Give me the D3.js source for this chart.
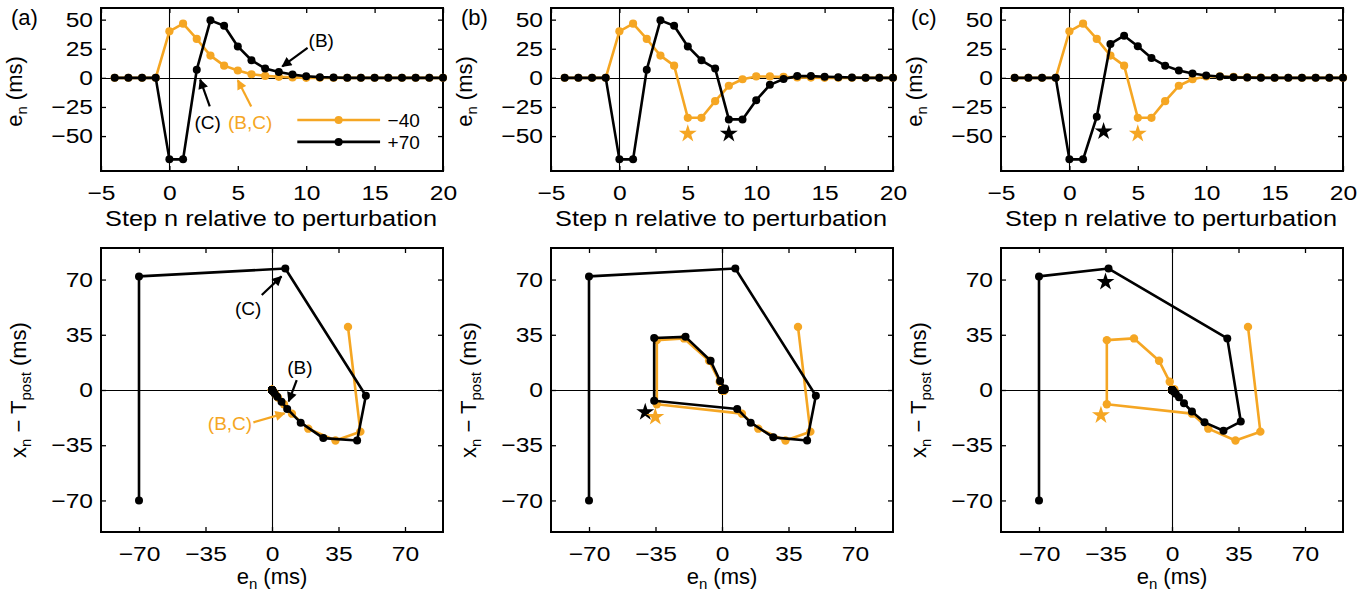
<!DOCTYPE html>
<html><head><meta charset="utf-8">
<script src="https://cdn.jsdelivr.net/npm/d3@7"></script>
<style>
body{margin:0;background:#fff;}
text{font-family:"Liberation Sans",Arial,Helvetica,sans-serif;}
</style>
</head><body>
<svg id="chart" width="1371" height="597"></svg>
<script>
// ---------- DATA ----------
const steps = [-4,-3,-2,-1,0,1,2,3,4,5,6,7,8,9,10,11,12,13,14,15,16,17,18,19,20];
// top panels: e_n (ms) per step
const eMinus40_a = [0,0,0,0,40,46.5,33.4,19.1,10.5,6.3,3.1,1.7,0.9,0.4,0,0,0,0,0,0,0,0,0,0,0];
const ePlus70_a  = [0,0,0,0,-70,-70,7,49.4,44.8,27,15.1,8,5,2.8,1.4,0.6,0.3,0,0,0,0,0,0,0,0];
const eMinus40_bc = [0,0,0,0,40,46.5,33.4,19.1,10.5,-34.3,-34.3,-20,-6.8,-1.2,1.2,1.2,0.8,0.4,0.2,0,0,0,0,0,0];
const ePlus70_b  = [0,0,0,0,-70,-70,7,49.4,44.8,27,15.1,8,-35.7,-35.7,-19.2,-6,-1,1.5,1.5,1,0.6,0.3,0,0,0];
const ePlus70_c  = [0,0,0,0,-70,-70,-33.4,29.1,36.2,27.1,17.1,10.5,6.3,3.7,2,1.1,0.5,0.2,0,0,0,0,0,0,0];
// bottom panels: x_n - T_post (ms) for steps n = 0..20
const xMinus40_a  = [40,-26.4,-32,-24.5,-15,-9,-4.8,-2.5,-1.3,-0.6,0,0,0,0,0,0,0,0,0,0,0];
const xPlus70_a   = [-70,72,77,-3.6,-32,-30.5,-20.7,-12,-7.5,-4.3,-2.2,-1,-0.4,0,0,0,0,0,0,0,0];
const xMinus40_bc = [40,-26.4,-32,-24.5,-15,-9,31.6,32.7,18.5,5.2,0.5,-0.5,-0.5,-0.3,0,0,0,0,0,0,0];
const xPlus70_b   = [-70,72,77,-3.6,-32,-30,-20.7,-12,-6.8,33,33.7,18.5,5.7,1,0.3,0,0,0,0,0,0];
const xPlus70_c   = [-70,72,77,32.7,-20,-25.8,-20.5,-13.7,-8.4,-4.6,-2.4,-1.2,-0.5,-0.2,0,0,0,0,0,0,0];
// stars
const starsTop_b = [{n:5, e:-48, s:"-40"}, {n:8, e:-48, s:"+70"}];
const starsTop_c = [{n:2.5, e:-46, s:"+70"}, {n:5, e:-48, s:"-40"}];
const starsBot_b = [{e:-40.4, x:-14, s:"+70"}, {e:-35.1, x:-17, s:"-40"}];
const starsBot_c = [{e:-35, x:68.5, s:"+70"}, {e:-37.4, x:-16, s:"-40"}];
// tick labels
const topXTicks = [-5,0,5,10,15,20];
const topYTicks = [-50,-25,0,25,50];
const botTicks = [-70,-35,0,35,70];
const seriesNames = ["\u221240", "+70"];
// annotations (data coordinates)
const annTop_a = [
  {t:"(B)", s:"+70", tx:11.1, ty:32.5, from:[10.1,25.7], to:[8.25,9.8]},
  {t:"(C)", s:"+70", tx:2.8, ty:-37.6, from:[2.95,-24.5], to:[2.25,-1.5]},
  {t:"(B,C)", s:"-40", tx:5.9, ty:-37.6, from:[5.98,-24.5], to:[5.0,-2.0]}
];
const annBot_a = [
  {t:"(C)", s:"+70", tx:-12.5, ty:51.8, from:[-5.4,60.2], to:[5.0,72.0]},
  {t:"(B)", s:"+70", tx:14.7, ty:14.8, from:[13,6.3], to:[8.8,-7.2]},
  {t:"(B,C)", s:"-40", tx:-22.1, ty:-21.1, from:[-9.8,-20.5], to:[6.6,-14.8]}
];

// ---------- LAYOUT ----------
const ORANGE = "#f5a623", BLACK = "#000";
const col = s => s === "-40" ? ORANGE : BLACK;
const FONT = '"Liberation Sans",Arial,Helvetica,sans-serif';
const SX = 1.2; // horizontal stretch of tick labels
const svg = d3.select("#chart");
const lefts = [101, 551, 1001], W = 342;
const topBox = [8, 171], botBox = [248, 532];

const defs = svg.append("defs");
[["arrK", BLACK], ["arrO", ORANGE]].forEach(([id, c]) => {
  defs.append("marker").attr("id", id).attr("viewBox", "0 0 10 10")
    .attr("refX", 9).attr("refY", 5).attr("markerWidth", 11).attr("markerHeight", 10)
    .attr("markerUnits", "userSpaceOnUse").attr("orient", "auto")
    .append("path").attr("d", "M0,0L10,5L0,10z").attr("fill", c);
});

function axes(g, x, y, xt, yt) {
  const [x0, x1] = x.range(), [yb, yt0] = y.range();
  g.append("line").attr("x1", x0).attr("x2", x1).attr("y1", Math.round(y(0)) + 0.5).attr("y2", Math.round(y(0)) + 0.5)
    .attr("stroke", "#000").attr("stroke-width", 1.1);
  g.append("line").attr("x1", Math.round(x(0)) + 0.5).attr("x2", Math.round(x(0)) + 0.5).attr("y1", yt0).attr("y2", yb)
    .attr("stroke", "#000").attr("stroke-width", 1.1);
  const bottom = g.append("g").attr("transform", `translate(0,${yb})`)
    .call(d3.axisBottom(x).tickValues(xt).tickSizeInner(-5).tickSizeOuter(0).tickPadding(14));
  const left = g.append("g").attr("transform", `translate(${x0},0)`)
    .call(d3.axisLeft(y).tickValues(yt).tickSizeInner(-5).tickSizeOuter(0).tickPadding(8));
  const top = g.append("g").attr("transform", `translate(0,${yt0})`)
    .call(d3.axisTop(x).tickValues(xt).tickSizeInner(-5).tickSizeOuter(0).tickFormat(""));
  const right = g.append("g").attr("transform", `translate(${x1},0)`)
    .call(d3.axisRight(y).tickValues(yt).tickSizeInner(-5).tickSizeOuter(0).tickFormat(""));
  [bottom, left, top, right].forEach(a => {
    a.attr("font-size", 20.5).attr("font-family", FONT);
    a.select(".domain").remove();
    a.selectAll("line").attr("stroke", "#000").attr("stroke-width", 1.3);
    a.selectAll("text").attr("fill", "#000");
  });
  bottom.selectAll("text").attr("transform", `scale(${SX},1)`);
  left.selectAll("text").attr("x", -8 / SX).attr("transform", `scale(${SX},1)`);
  g.append("rect").attr("x", x0).attr("y", yt0).attr("width", x1 - x0).attr("height", yb - yt0)
    .attr("fill", "none").attr("stroke", "#000").attr("stroke-width", 2);
}

function series(g, pts, color, r) {
  g.append("path").datum(pts)
    .attr("d", d3.line().x(d => d[0]).y(d => d[1]))
    .attr("fill", "none").attr("stroke", color).attr("stroke-width", 2.6).attr("stroke-linejoin", "round");
  g.selectAll(null).data(pts).join("circle")
    .attr("cx", d => d[0]).attr("cy", d => d[1]).attr("r", r).attr("fill", color);
}

function star(g, px, py, color) {
  g.append("path").attr("d", d3.symbol(d3.symbolStar, 100)())
    .attr("transform", `translate(${px},${py})`).attr("fill", color);
}

function annotate(g, x, y, list) {
  list.forEach(a => {
    const c = col(a.s);
    g.append("line").attr("x1", x(a.from[0])).attr("y1", y(a.from[1]))
      .attr("x2", x(a.to[0])).attr("y2", y(a.to[1]))
      .attr("stroke", c).attr("stroke-width", 2.2)
      .attr("marker-end", `url(#${a.s === "-40" ? "arrO" : "arrK"})`);
    g.append("text").attr("x", x(a.tx)).attr("y", y(a.ty) + 7)
      .attr("text-anchor", "middle").attr("font-size", 19).attr("fill", c).text(a.t);
  });
}

const panels = [
  {L: "(a)", eO: eMinus40_a, eK: ePlus70_a, xO: xMinus40_a, xK: xPlus70_a, sT: [], sB: [], annT: annTop_a, annB: annBot_a, legend: true},
  {L: "(b)", eO: eMinus40_bc, eK: ePlus70_b, xO: xMinus40_bc, xK: xPlus70_b, sT: starsTop_b, sB: starsBot_b, annT: [], annB: [], legend: false},
  {L: "(c)", eO: eMinus40_bc, eK: ePlus70_c, xO: xMinus40_bc, xK: xPlus70_c, sT: starsTop_c, sB: starsBot_c, annT: [], annB: [], legend: false}
];

panels.forEach((p, i) => {
  const L = lefts[i];
  const g = svg.append("g");
  // ---- top panel ----
  const x = d3.scaleLinear().domain([-5, 20]).range([L, L + W]);
  const y = d3.scaleLinear().domain([-80, 60]).range([topBox[1], topBox[0]]);
  axes(g, x, y, topXTicks, topYTicks);
  series(g, steps.map((n, k) => [x(n), y(p.eO[k])]), ORANGE, 4.1);
  series(g, steps.map((n, k) => [x(n), y(p.eK[k])]), BLACK, 4);
  p.sT.forEach(s => star(g, x(s.n), y(s.e), col(s.s)));
  annotate(g, x, y, p.annT);
  if (p.legend) {
    const items = [{s: "-40", v: -36.2, name: seriesNames[0]}, {s: "+70", v: -55, name: seriesNames[1]}];
    items.forEach(it => {
      const c = col(it.s);
      g.append("line").attr("x1", x(9.35)).attr("x2", x(15.4)).attr("y1", y(it.v)).attr("y2", y(it.v))
        .attr("stroke", c).attr("stroke-width", 2.6);
      g.append("circle").attr("cx", x(12.37)).attr("cy", y(it.v)).attr("r", 4).attr("fill", c);
      g.append("text").attr("x", x(15.95)).attr("y", y(it.v) + 7).attr("font-size", 19).attr("fill", "#000").text(it.name);
    });
  }
  g.append("text").attr("x", L - 90).attr("y", 25).attr("font-size", 22).text(p.L);
  const ylab = g.append("text").attr("transform", `translate(${L - 79},${(topBox[0] + topBox[1]) / 2 + 2}) rotate(-90)`)
    .attr("text-anchor", "middle").attr("font-size", 22);
  ylab.append("tspan").text("e");
  ylab.append("tspan").attr("font-size", 15).attr("dy", 5).text("n");
  ylab.append("tspan").attr("dy", -5).text(" (ms)");
  g.append("text").attr("x", L + W / 2 - 1).attr("y", 226).attr("text-anchor", "middle").attr("font-size", 22.5)
    .attr("textLength", 332).attr("lengthAdjust", "spacingAndGlyphs")
    .text("Step n relative to perturbation");

  // ---- bottom panel ----
  const bx = d3.scaleLinear().domain([-90, 90]).range([L, L + W]);
  const by = d3.scaleLinear().domain([-90, 90]).range([botBox[1], botBox[0]]);
  axes(g, bx, by, botTicks, botTicks);
  const nz = steps.slice(4);
  series(g, nz.map((n, k) => [bx(p.eO[k + 4]), by(p.xO[k])]), ORANGE, 4.2);
  series(g, nz.map((n, k) => [bx(p.eK[k + 4]), by(p.xK[k])]), BLACK, 4);
  p.sB.forEach(s => star(g, bx(s.e), by(s.x), col(s.s)));
  annotate(g, bx, by, p.annB);
  const bl = g.append("text").attr("transform", `translate(${L - 75},${(botBox[0] + botBox[1]) / 2}) rotate(-90)`)
    .attr("text-anchor", "middle").attr("font-size", 22);
  bl.append("tspan").text("x");
  bl.append("tspan").attr("font-size", 15).attr("dy", 5).text("n");
  bl.append("tspan").attr("dy", -5).text(" \u2212 T");
  bl.append("tspan").attr("font-size", 15).attr("dy", 5).text("post");
  bl.append("tspan").attr("dy", -5).text(" (ms)");
  const xl = g.append("text").attr("x", L + W / 2).attr("y", 584).attr("text-anchor", "middle").attr("font-size", 22);
  xl.append("tspan").text("e");
  xl.append("tspan").attr("font-size", 15).attr("dy", 5).text("n");
  xl.append("tspan").attr("dy", -5).text(" (ms)");
});
</script>
</body></html>
